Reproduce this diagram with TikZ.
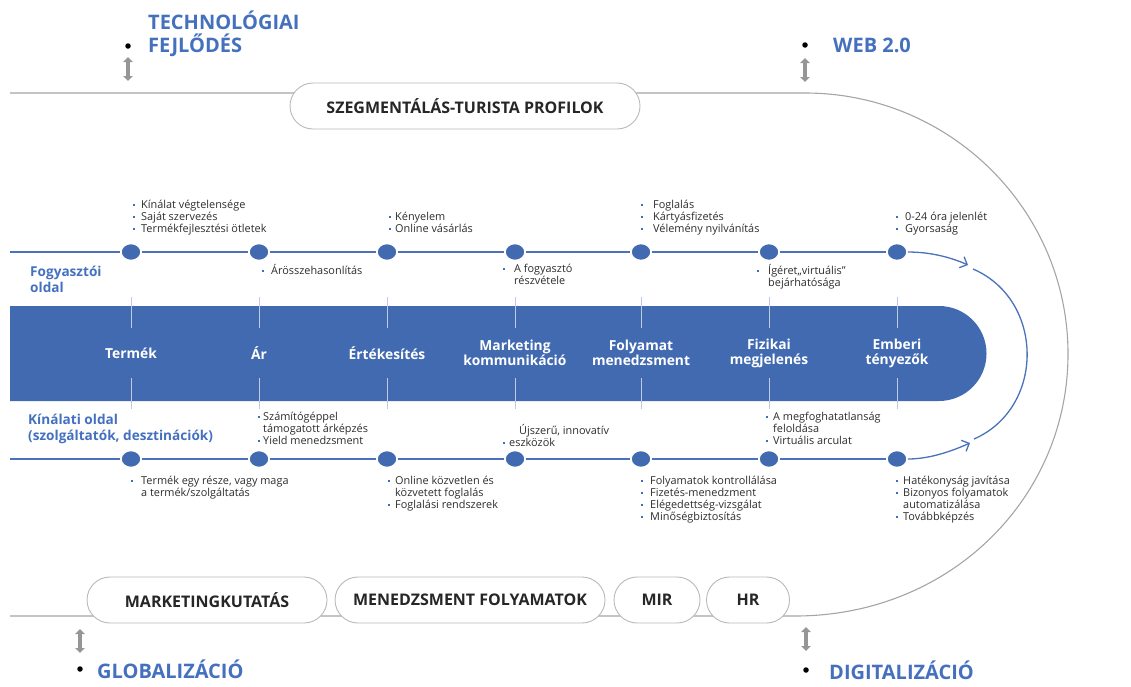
\documentclass[tikz,border=0pt]{standalone}
\usepackage{fontspec}
\setmainfont{Open Sans}
\usetikzlibrary{arrows.meta,shapes.geometric}
\definecolor{bandblue}{RGB}{65,106,177}
\definecolor{lineblue}{RGB}{74,114,186}
\definecolor{headblue}{RGB}{68,112,190}
\definecolor{bulblue}{RGB}{60,110,190}
\definecolor{outgray}{RGB}{165,165,165}
\definecolor{pillgray}{RGB}{185,185,185}
\definecolor{arrgray}{RGB}{150,150,150}
\definecolor{tickcol}{RGB}{190,203,228}
\definecolor{txtgray}{RGB}{45,45,45}
\newcommand\bul[1]{\strut\makebox[#1][l]{\textcolor{bulblue}{\rule[2.4pt]{1.9pt}{1.9pt}}}}
\newcommand\ind[1]{\strut\hspace*{#1}}
\begin{document}
\begin{tikzpicture}[x=1pt,y=-1pt,
  bline/.style={draw=lineblue,line width=1.3pt},
  gline/.style={draw=outgray,line width=1.1pt},
  tickline/.style={draw=tickcol,line width=1pt},
  ball/.style={ellipse,fill=bandblue,draw=white,line width=1.5pt,minimum width=20pt,minimum height=17pt,inner sep=0pt},
  pill/.style={draw=pillgray,fill=white,line width=0.9pt,rounded corners=23pt,minimum height=46pt,inner sep=0pt,font=\fontsize{16}{18}\selectfont\bfseries,text=black!85},
  txt/.style={anchor=north west,inner sep=0pt,align=left,font=\fontsize{10.9}{12}\selectfont,text=txtgray},
  bandlbl/.style={align=center,inner sep=0pt,text=white,font=\fontsize{13.8}{15}\selectfont\bfseries},
  sidelbl/.style={anchor=west,align=left,inner sep=0pt,text=headblue,font=\fontsize{13.6}{16}\selectfont\bfseries},
  biglbl/.style={anchor=west,align=left,inner sep=0pt,text=headblue,font=\fontsize{20}{23}\selectfont\bfseries},
  dot/.style={circle,fill=black,inner sep=0pt,minimum size=5.5pt},
  darrow/.style={draw=arrgray,line width=3.2pt,{Triangle[length=5pt,width=9.5pt]}-{Triangle[length=5pt,width=9.5pt]}},
  barb/.style={-{Straight Barb[length=6pt,width=12pt,line width=1.3pt]}}
]
\useasboundingbox (0,0) rectangle (1131,686);

% outer gray loop
\draw[gline] (10,93) -- (805,93) .. controls (950,93) and (1068,210) .. (1068,354)
  .. controls (1068,498) and (950,616) .. (795,616) -- (10,616);

% pills
\node[pill,minimum width=350pt] (seg) at (465,106) {SZEGMENTÁLÁS-TURISTA PROFILOK};
\node[pill,minimum width=240pt] (mk) at (207,600) {MARKETINGKUTATÁS};
\node[pill,minimum width=270pt] (mf) at (470,600) {MENEDZSMENT FOLYAMATOK};
\node[pill,minimum width=86pt] (mir) at (657,600) {MIR};
\node[pill,minimum width=83pt] (hr) at (748,600) {HR};

% top and bottom labels
\node[dot] (d1) at (128,46) {};
\node[biglbl] (tech) at (148,34) {TECHNOLÓGIAI\\FEJLŐDÉS};
\coordinate (a1t) at (128,57); \coordinate (a1b) at (128,81);
\draw[darrow] (a1t) -- (a1b);
\node[dot] (d2) at (805,45) {};
\node[biglbl] (web) at (833,45) {WEB 2.0};
\coordinate (a2t) at (805,58); \coordinate (a2b) at (805,82);
\draw[darrow] (a2t) -- (a2b);
\node[dot] (d3) at (80,669) {};
\node[biglbl] (glob) at (97,669) {GLOBALIZÁCIÓ};
\coordinate (a3t) at (80,629); \coordinate (a3b) at (80,653);
\draw[darrow] (a3t) -- (a3b);
\node[dot] (d4) at (806,670) {};
\node[biglbl] (digi) at (829,670) {DIGITALIZÁCIÓ};
\coordinate (a4t) at (806,627); \coordinate (a4b) at (806,651);
\draw[darrow] (a4t) -- (a4b);

% ticks
\foreach \x in {131,259,387,515,641,769,897}{
  \draw[tickline] (\x,297) -- (\x,328);
  \draw[tickline] (\x,378) -- (\x,409);
}

% band
\fill[bandblue] (10,306) -- (939,306) arc[start angle=-90,end angle=90,radius=47.5] -- (10,401) -- cycle;
\foreach \x in {131,259,387,515,641,769,897}{
  \draw[tickline] (\x,306) -- (\x,328);
  \draw[tickline] (\x,378) -- (\x,401);
}
\node[bandlbl] (b1) at (131,353) {Termék};
\node[bandlbl] (b2) at (259,353) {Ár};
\node[bandlbl] (b3) at (387,353) {Értékesítés};
\node[bandlbl] (b4) at (515,353) {Marketing\\kommunikáció};
\node[bandlbl] (b5) at (641,353) {Folyamat\\menedzsment};
\node[bandlbl] (b6) at (769,353) {Fizikai\\megjelenés};
\node[bandlbl] (b7) at (897,353) {Emberi\\tényezők};

% side labels
\node[sidelbl] (fog) at (30,279) {Fogyasztói\\oldal};
\node[sidelbl] (kin) at (28,429) {Kínálati oldal\\(szolgáltatók, desztinációk)};

% nodes of the two rows
\foreach \i/\x in {1/131,2/259,3/387,4/515,5/641,6/769,7/897}{
  \node[ball] (f\i) at (\x,252) {};
  \node[ball] (k\i) at (\x,459) {};
}
\coordinate (fs) at (10,252);
\coordinate (ks) at (10,459);
\draw[bline] (fs) -- (f1) -- (f2) -- (f3) -- (f4) -- (f5) -- (f6) -- (f7);
\draw[bline] (ks) -- (k1) -- (k2) -- (k3) -- (k4) -- (k5) -- (k6) -- (k7);

% right loop with arrows
\coordinate (ftip) at (968,265);
\coordinate (ktip) at (970,443);
\coordinate (arcA) at (973,269);
\coordinate (arcB) at (974,439);
\draw[bline,barb] (f7.east) .. controls (930,252) and (950,257) .. (ftip);
\draw[bline,barb] (k7.east) .. controls (930,459) and (952,451) .. (ktip);
\draw[bline] (arcA) .. controls (1045,300) and (1045,408) .. (arcB);

% consumer side texts
\node[txt] (t1) at (133,200) {\bul{8pt}Kínálat végtelensége\\\bul{8pt}Saját szervezés\\\bul{8pt}Termékfejlesztési ötletek};
\node[txt] (t2) at (262,264) {\bul{9pt}Árösszehasonlítás};
\node[txt] (t3) at (389,212) {\bul{6pt}Kényelem\\\bul{6pt}Online vásárlás};
\node[txt] (t4) at (503,264) {\bul{11pt}A fogyasztó\\\ind{11pt}részvétele};
\node[txt] (t5) at (641,200) {\bul{12pt}Foglalás\\\bul{12pt}Kártyásfizetés\\\bul{12pt}Vélemény nyilvánítás};
\node[txt] (t6) at (757,264) {\bul{11pt}Ígéret„virtuális”\\\ind{11pt}bejárhatósága};
\node[txt] (t7) at (896,212) {\bul{9pt}0-24 óra jelenlét\\\bul{9pt}Gyorsaság};

% supply side texts
\node[txt] (u1) at (131,476) {\bul{10pt}Termék egy része, vagy maga\\\ind{10pt}a termék/szolgáltatás};
\node[txt] (u2) at (258,412) {\bul{5pt}Számítógéppel\\\ind{5pt}támogatott árképzés\\\bul{5pt}Yield menedzsment};
\node[txt] (u3) at (388,476) {\bul{7pt}Online közvetlen és\\\ind{7pt}közvetett foglalás\\\bul{7pt}Foglalási rendszerek};
\node[txt] (u4) at (503,424) {\ind{16pt}Újszerű, innovatív\\\bul{6pt}eszközök};
\node[txt] (u5) at (641,476) {\bul{9pt}Folyamatok kontrollálása\\\bul{9pt}Fizetés-menedzment\\\bul{9pt}Elégedettség-vizsgálat\\\bul{9pt}Minőségbiztosítás};
\node[txt] (u6) at (766,412) {\bul{7pt}A megfoghatatlanság\\\ind{7pt}feloldása\\\bul{7pt}Virtuális arculat};
\node[txt] (u7) at (896,476) {\bul{7pt}Hatékonyság javítása\\\bul{7pt}Bizonyos folyamatok\\\ind{7pt}automatizálása\\\bul{7pt}Továbbképzés};
\end{tikzpicture}
\end{document}
